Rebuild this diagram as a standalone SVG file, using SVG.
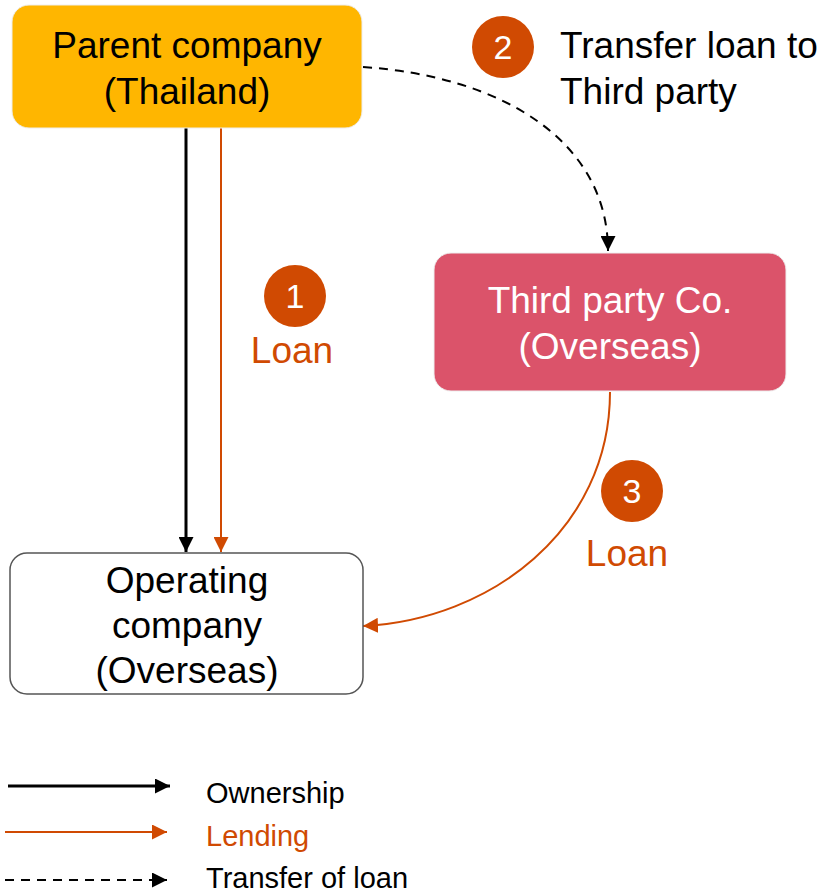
<svg xmlns="http://www.w3.org/2000/svg" width="825" height="892" viewBox="0 0 825 892">
  <style>
    text { font-family: "Liberation Sans", Arial, sans-serif; }
    .node { font-size: 37px; text-anchor: middle; }
    .lbl { font-size: 37px; fill: #D04A02; text-anchor: middle; }
    .num { font-size: 34px; fill: #FFFFFF; text-anchor: middle; }
    .badge { fill: #D04A02; }
    .legend { font-size: 29px; }
    .own { stroke: #000; stroke-width: 3; fill: none; }
    .lend { stroke: #D04A02; stroke-width: 2; fill: none; }
    .xfer { stroke: #000; stroke-width: 2; stroke-dasharray: 9 7; fill: none; }
  </style>
  <defs>
    <marker id="ahBlack" viewBox="0 0 10 10" refX="10" refY="5" markerWidth="15" markerHeight="15" markerUnits="userSpaceOnUse" orient="auto">
      <path d="M0,0 L10,5 L0,10 z" fill="#000"/>
    </marker>
    <marker id="ahOrange" viewBox="0 0 10 10" refX="10" refY="5" markerWidth="15" markerHeight="15" markerUnits="userSpaceOnUse" orient="auto">
      <path d="M0,0 L10,5 L0,10 z" fill="#D04A02"/>
    </marker>
  </defs>

  <!-- connectors -->
  <g id="connectors">
    <line class="own" x1="186" y1="128" x2="186" y2="552" marker-end="url(#ahBlack)"/>
    <line class="lend" x1="221" y1="128" x2="221" y2="552" marker-end="url(#ahOrange)"/>
    <path class="xfer" d="M363,67 C500,76 608,140 608,251" marker-end="url(#ahBlack)"/>
    <path class="lend" d="M610,392 C610,530 490,620 363,626" marker-end="url(#ahOrange)"/>
  </g>

  <g id="parent">
    <rect x="12" y="5" width="350" height="123" rx="17" fill="#FFB600" stroke="#EEEEEE" stroke-width="1"/>
    <text class="node" x="187" y="58">Parent company</text>
    <text class="node" x="187" y="104">(Thailand)</text>
  </g>

  <g id="thirdparty">
    <rect x="434" y="253" width="352" height="138" rx="17" fill="#DB536A" stroke="#EEEEEE" stroke-width="1"/>
    <text class="node" x="610" y="313" fill="#FFFFFF">Third party Co.</text>
    <text class="node" x="610" y="359" fill="#FFFFFF">(Overseas)</text>
  </g>

  <g id="operating">
    <rect x="10" y="553" width="353" height="141" rx="17" fill="#FFFFFF" stroke="#555555" stroke-width="1.5"/>
    <text class="node" x="187" y="593">Operating</text>
    <text class="node" x="187" y="638">company</text>
    <text class="node" x="187" y="683">(Overseas)</text>
  </g>

  <g id="step1">
    <circle class="badge" cx="295" cy="296" r="31"/>
    <text class="num" x="295" y="308">1</text>
    <text class="lbl" x="292" y="363">Loan</text>
  </g>

  <g id="step2">
    <circle class="badge" cx="503" cy="47" r="31"/>
    <text class="num" x="503" y="59">2</text>
    <text x="560" y="58" font-size="37">Transfer loan to</text>
    <text x="560" y="104" font-size="37">Third party</text>
  </g>

  <g id="step3">
    <circle class="badge" cx="632" cy="491" r="31"/>
    <text class="num" x="632" y="503">3</text>
    <text class="lbl" x="627" y="566">Loan</text>
  </g>

  <g id="legend">
    <line class="own" x1="8" y1="786" x2="170" y2="786" marker-end="url(#ahBlack)"/>
    <text class="legend" x="206" y="803">Ownership</text>
    <line class="lend" x1="5" y1="832" x2="167" y2="832" marker-end="url(#ahOrange)"/>
    <text class="legend" x="206" y="846" fill="#D04A02">Lending</text>
    <line class="xfer" x1="5" y1="880" x2="167" y2="880" marker-end="url(#ahBlack)"/>
    <text class="legend" x="206" y="888">Transfer of loan</text>
  </g>
</svg>
